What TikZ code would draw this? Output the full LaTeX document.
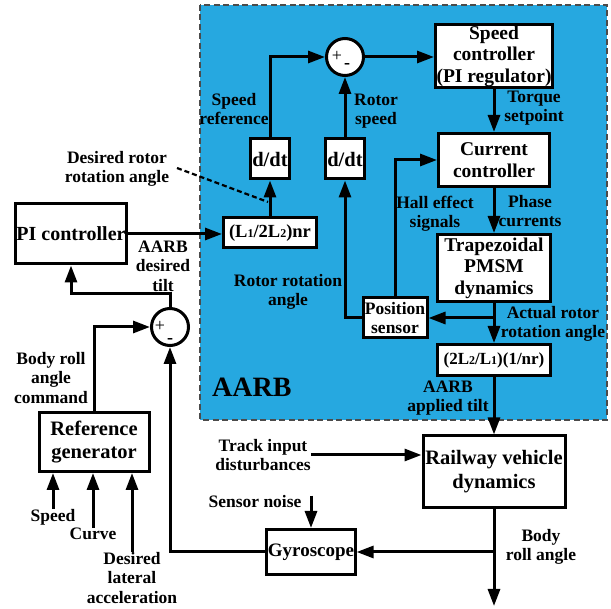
\documentclass[tikz,border=0pt]{standalone}
\usepackage{fontspec}
\setmainfont{Liberation Serif}
\usetikzlibrary{arrows.meta, positioning, calc}
\definecolor{aarbblue}{RGB}{38,168,224}
\definecolor{edgegray}{RGB}{75,75,75}
\newcommand\lsub[1]{{\fontsize{12}{12}\selectfont #1}}
\tikzset{
  box/.style={draw, line width=3pt, fill=white, align=center, inner sep=1pt,
    font=\fontsize{19.5}{21.5}\selectfont\bfseries},
  sumnode/.style={draw, circle, line width=3pt, fill=white, minimum size=37pt, inner sep=0pt},
  lbl/.style={align=center, inner sep=0pt, font=\fontsize{17.5}{19.5}\selectfont\bfseries},
  arr/.style={-{Triangle[length=17pt, width=12pt]}, line width=3pt},
  dashedge/.style={draw=edgegray, line width=1.6pt, dash pattern=on 6pt off 3.5pt},
}
\begin{document}
\begin{tikzpicture}[x=1pt, y=-1pt]
    \useasboundingbox (0,0) rectangle (611,609);
    % AARB region
    \fill[aarbblue] (200,5) rectangle (607,420);
    \draw[dashedge] (200,5) rectangle (607,420);
    \node[anchor=west, inner sep=0pt, font=\fontsize{28}{28}\selectfont\bfseries] (aarb) at (212,387) {AARB};

    % motor loop
    \node[sumnode] (sum1) at (345,57) {};
    \node[inner sep=0pt, font=\fontsize{18}{18}\selectfont] (p1) at (337,56) {+};
    \node[inner sep=0pt, font=\fontsize{18}{18}\selectfont\bfseries] (m1) at (347,66) {-};
    \node[box, minimum width=115pt, minimum height=61pt] (spd) at (494,56) {Speed\\controller\\(PI regulator)};
    \node[box, minimum width=111pt, minimum height=53pt] (cur) at (494,160) {Current\\controller};
    \node[box, minimum width=113pt, minimum height=67pt] (pmsm) at (494,268) {Trapezoidal\\PMSM\\dynamics};
    \node[box, minimum width=64pt, minimum height=40pt, font=\fontsize{17.5}{19.5}\selectfont\bfseries] (pos) at (395,318) {Position\\sensor};
    \node[box, minimum width=113pt, minimum height=31pt, font=\fontsize{17}{19}\selectfont\bfseries] (gain2) at (494,360) {(2L\lsub{2}/L\lsub{1})(1/nr)};
    \node[box, minimum width=39pt, minimum height=40pt, font=\fontsize{20.5}{20}\selectfont\bfseries] (ddt1) at (270,159) {d/dt};
    \node[box, minimum width=39pt, minimum height=40pt, font=\fontsize{20.5}{20}\selectfont\bfseries] (ddt2) at (345,159) {d/dt};
    \node[box, minimum width=93pt, minimum height=30pt, font=\fontsize{18.5}{18}\selectfont\bfseries] (gain1) at (270,233) {(L\lsub{1}/2L\lsub{2})nr};

    % outer loop
    \node[box, minimum width=111pt, minimum height=60pt, font=\fontsize{20}{22}\selectfont\bfseries] (pic) at (71,234) {PI controller};
    \node[sumnode] (sum2) at (170,327) {};
    \node[inner sep=0pt, font=\fontsize{18}{18}\selectfont] (p2) at (160,326) {+};
    \node[inner sep=0pt, font=\fontsize{18}{18}\selectfont\bfseries] (m2) at (170,341) {-};
    \node[box, minimum width=110pt, minimum height=59pt, font=\fontsize{20.5}{23}\selectfont\bfseries] (refgen) at (94,442) {Reference\\generator};
    \node[box, minimum width=142pt, minimum height=72pt, font=\fontsize{20.5}{24}\selectfont\bfseries] (rail) at (494,472) {Railway vehicle\\dynamics};
    \node[box, minimum width=88pt, minimum height=45pt, font=\fontsize{19}{20}\selectfont\bfseries] (gyro) at (311,552) {Gyroscope};

    % labels
    \node[lbl] (spdref) at (234,109) {Speed\\reference};
    \node[lbl] (rotspd) at (376,111) {Rotor\\speed};
    \node[lbl] (torque) at (534,108) {Torque\\setpoint};
    \node[lbl] (desrot) at (117,169) {Desired rotor\\rotation angle};
    \node[lbl] (destilt) at (163,266) {AARB\\desired\\tilt};
    \node[lbl] (hall) at (435,214) {Hall effect\\signals};
    \node[lbl] (phase) at (530,211) {Phase\\currents};
    \node[lbl] (rotang) at (288,292) {Rotor rotation\\angle};
    \node[lbl] (actrot) at (553,324) {Actual rotor\\rotation angle};
    \node[lbl] (apptilt) at (448,398) {AARB\\applied tilt};
    \node[lbl] (bodycmd) at (51,378) {Body roll\\angle\\command};
    \node[lbl] (speedin) at (53,517) {Speed};
    \node[lbl] (curvein) at (93,534) {Curve};
    \node[lbl] (latin) at (132,578) {Desired\\lateral\\acceleration};
    \node[lbl] (track) at (263,455) {Track input\\disturbances};
    \node[lbl] (noise) at (255,502) {Sensor noise};
    \node[lbl] (bodyroll) at (541,547) {Body\\roll angle};

    \coordinate (dashstart) at (177,168);
    \coordinate (dashend) at (268,202);
    \coordinate (tap1) at (pmsm.south |- pos.east);
    \coordinate (tap2) at (rail.south |- gyro.east);
    \coordinate (out) at (494,606);

    % connectors
    \draw[arr] (ddt1.north) |- (sum1.west);
    \draw[arr] (ddt2) -- (sum1);
    \draw[arr] (sum1.east) -- (sum1.east -| spd.west);
    \draw[arr] (spd) -- (cur);
    \draw[arr] (cur) -- (pmsm);
    \draw[arr] (pmsm) -- (gain2);
    \draw[arr] (tap1) -- (pos.east);
    \draw[arr] (pos.north) |- (cur.west);
    \draw[arr] (pos.west) -| (ddt2.south);
    \draw[arr] (gain1) -- (ddt1);
    \draw[arr] (pic.east) -- (pic.east -| gain1.west);
    \draw[line width=2.2pt, dash pattern=on 5pt off 3pt] (dashstart) -- (dashend);
    \draw[arr] (sum2.north) -- ++(0,-13) -| (pic.south);
    \draw[arr] (refgen.north) |- (sum2.west);
    \draw[arr] (gyro.west) -| (sum2.south);
    \draw[arr] (gain2) -- (rail);
    \draw[arr] (rail.south) -- (out);
    \draw[arr] (tap2) -- (gyro.east);
    \draw[arr] (track.east) -- (track.east -| rail.west);
    \draw[arr] (noise.north -| gyro.north) -- (gyro.north);
    \draw[arr] (speedin.north) -- (speedin.north |- refgen.south);
    \draw[arr] (curvein.north) -- (curvein.north |- refgen.south);
    \draw[arr] (latin.north) -- (latin.north |- refgen.south);
\end{tikzpicture}
\end{document}
